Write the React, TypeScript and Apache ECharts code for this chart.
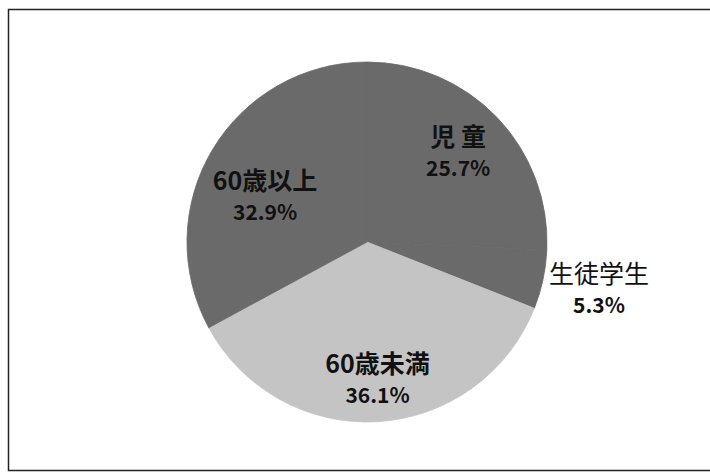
import React, { useEffect, useRef } from "react";
import * as echarts from "echarts";

const categories = ["児 童", "生徒学生", "60歳未満", "60歳以上"];
const shares = [25.7, 5.3, 36.1, 32.9];

const sliceColors = ["#6a6a6a", "#6a6a6a", "#c4c4c4", "#6a6a6a"];
const labelOffsets: [number, number][] = [
  [24, -27],
  [141, 27],
  [5, 43],
  [-22, 1],
];
const nameBold = [true, false, true, true];

export default function App() {
  const ref = useRef<HTMLDivElement>(null);
  useEffect(() => {
    if (!ref.current) return;
    const chart = echarts.init(ref.current, undefined, { renderer: "svg" });
    const font = "'Noto Sans CJK JP', 'Noto Sans', sans-serif";
    chart.setOption({
      animation: false,
      backgroundColor: "#ffffff",
      graphic: [
        {
          type: "rect",
          shape: { x: 8.5, y: 9.5, width: 705, height: 461 },
          style: { fill: "none", stroke: "#222", lineWidth: 1.5 },
          silent: true,
        },
      ],
      series: [
        {
          type: "pie",
          center: [367, 242],
          radius: 180,
          startAngle: 90,
          clockwise: true,
          avoidLabelOverlap: false,
          labelLine: { show: false },
          emphasis: { disabled: true },
          data: categories.map((name, i) => ({
            name,
            value: shares[i],
            itemStyle: {
              color: sliceColors[i],
              borderColor: sliceColors[i],
              borderWidth: 0.8,
            },
            label: {
              rich: {
                n: {
                  fontFamily: font,
                  fontSize: 25,
                  fontWeight: nameBold[i] ? "bold" : "normal",
                  color: "#111",
                  lineHeight: 32,
                  align: "center",
                },
                v: {
                  fontFamily: font,
                  fontSize: 21,
                  fontWeight: "bold",
                  color: "#111",
                  lineHeight: 32,
                  align: "center",
                },
              },
            },
          })),
          label: {
            show: true,
            position: "inside",
            formatter: (p: any) => `{n|${p.name}}\n{v|${p.value.toFixed(1)}%}`,
          },
          labelLayout: (p: any) => ({
            dx: labelOffsets[p.dataIndex][0],
            dy: labelOffsets[p.dataIndex][1],
          }),
        },
      ],
    });
    return () => chart.dispose();
  }, []);
  return (
    <div
      ref={ref}
      style={{ position: "fixed", left: 0, top: 0, width: 710, height: 473 }}
    />
  );
}
